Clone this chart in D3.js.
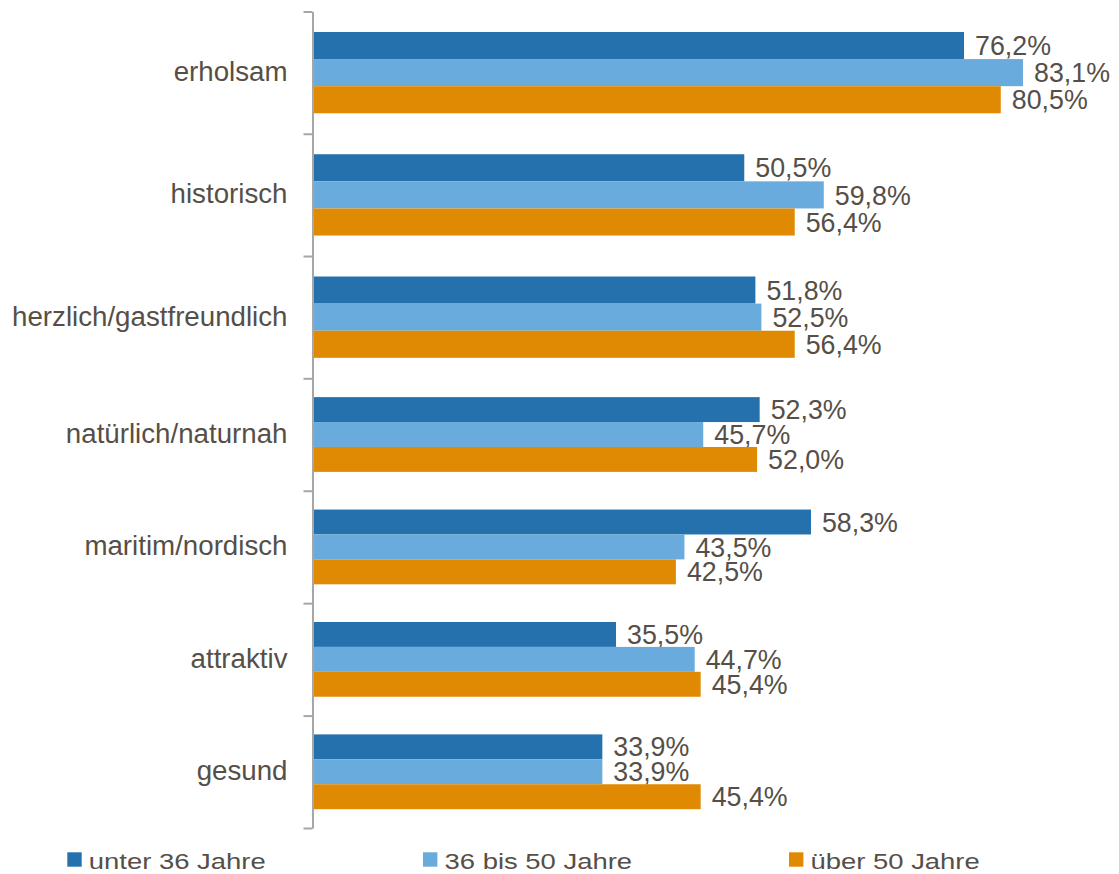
<!DOCTYPE html>
<html>
<head>
<meta charset="utf-8">
<script src="https://cdn.jsdelivr.net/npm/d3@7"></script>
<style>
  html, body { margin: 0; padding: 0; background: #ffffff; }
  svg { display: block; }
  text { font-family: "Liberation Sans", Arial, sans-serif; fill: #564f47; }
</style>
</head>
<body>
<svg id="chart" width="1119" height="874"></svg>
<script>
// Image attributes by age group (share of respondents, %)
const categories = ["erholsam", "historisch", "herzlich/gastfreundlich", "natürlich/naturnah",
                    "maritim/nordisch", "attraktiv", "gesund"];
const seriesNames = ["unter 36 Jahre", "36 bis 50 Jahre", "über 50 Jahre"];
const under36 = [76.2, 50.5, 51.8, 52.3, 58.3, 35.5, 33.9];
const from36to50 = [83.1, 59.8, 52.5, 45.7, 43.5, 44.7, 33.9];
const over50 = [80.5, 56.4, 56.4, 52.0, 42.5, 45.4, 45.4];
const seriesValues = [under36, from36to50, over50];
const colors = ["#2471ad", "#69abdd", "#e08a04"];

const svg = d3.select("#chart");

// horizontal value scale (percent)
const x = d3.scaleLinear().domain([0, 90]).range([312.5, 312.5 + 90 * 8.55]);

// category band boundaries (index -> y position of the boundary)
const edge = d3.scaleLinear().domain([0, 3, 7]).range([11.5, 378.3, 828]);

// series positions inside one category band
const inner = d3.scaleBand().domain(d3.range(seriesNames.length)).range([0.1675, 0.8325]).padding(0);

const fmt = v => d3.format(".1f")(v).replace(".", ",") + "%";

// bars and value labels
categories.forEach((cat, i) => {
  const top = edge(i), h = edge(i + 1) - edge(i);
  const g = svg.append("g");
  seriesValues.forEach((vals, s) => {
    const y0 = top + inner(s) * h;
    const bh = inner.bandwidth() * h;
    g.append("rect")
      .attr("x", x(0))
      .attr("y", y0)
      .attr("width", x(vals[i]) - x(0))
      .attr("height", bh)
      .attr("fill", colors[s]);
    g.append("text")
      .attr("x", x(vals[i]) + 11)
      .attr("y", y0 + bh / 2 + 9.6)
      .attr("font-size", 26.8)
      .text(fmt(vals[i]));
  });
  svg.append("text")
    .attr("x", 287.5)
    .attr("y", top + h / 2 + 8.4)
    .attr("text-anchor", "end")
    .attr("font-size", 27.7)
    .text(cat);
});

// category axis with tick marks at band boundaries
const axis = d3.axisLeft(edge)
  .tickValues(d3.range(categories.length + 1))
  .tickFormat("")
  .tickSize(9)
  .tickSizeOuter(0);
const ag = svg.append("g")
  .attr("transform", `translate(${x(0)},0)`)
  .call(axis);
ag.select(".domain").attr("stroke", "#a6a6a6").attr("stroke-width", 2);
ag.selectAll(".tick line").attr("stroke", "#a6a6a6").attr("stroke-width", 2);

// legend (wide lettering)
const legendX = [67.3, 423, 789];
seriesNames.forEach((name, s) => {
  const lg = svg.append("g").attr("transform", `translate(${legendX[s]},0)`);
  lg.append("rect").attr("x", 0).attr("y", 852.3).attr("width", 14.4).attr("height", 14.4).attr("fill", colors[s]);
  lg.append("text")
    .attr("transform", "translate(21.5,869) scale(1.22,1)")
    .attr("font-size", 22.5)
    .text(name);
});
</script>
</body>
</html>
